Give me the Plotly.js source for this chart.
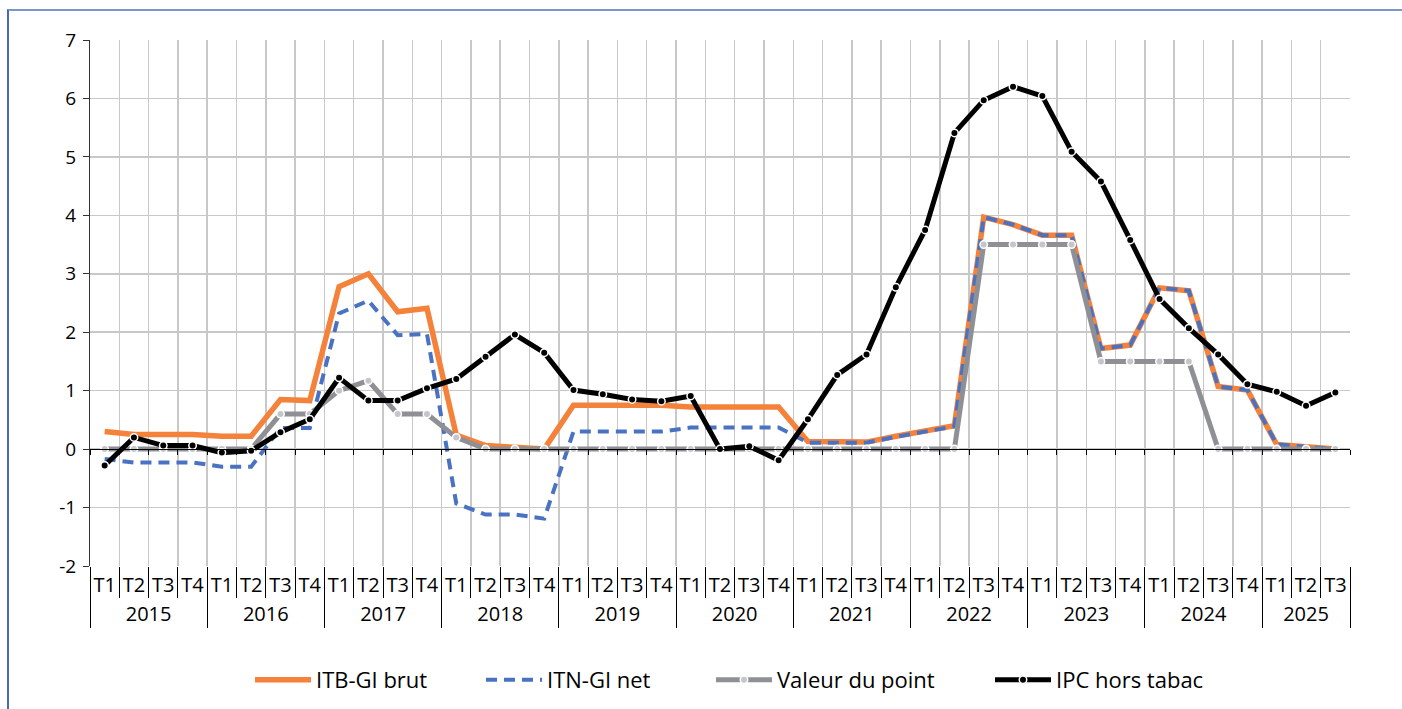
<!DOCTYPE html>
<html>
<head>
<meta charset="utf-8">
<script src="https://cdn.plot.ly/plotly-3.0.1.min.js"></script>
<style>
  html, body { margin: 0; padding: 0; background: #fff; }
  #wrap { position: relative; width: 1402px; height: 709px; overflow: hidden; }
  #frame { position: absolute; left: 7px; top: 9px; width: 1400px; height: 720px;
           border-top: 2px solid #7d96c9; border-left: 2px solid #4a68b8; pointer-events: none; z-index: 2; }
  #chart { position: absolute; left: 0; top: 0; width: 1402px; height: 709px; }
</style>
</head>
<body>
<div id="wrap">
  <div id="chart"></div>
  <div id="frame"></div>
</div>
<script>
// Categories
const yearLabels = [
  '2015','2015','2015','2015',
  '2016','2016','2016','2016',
  '2017','2017','2017','2017',
  '2018','2018','2018','2018',
  '2019','2019','2019','2019',
  '2020','2020','2020','2020',
  '2021','2021','2021','2021',
  '2022','2022','2022','2022',
  '2023','2023','2023','2023',
  '2024','2024','2024','2024',
  '2025','2025','2025'
];
const quarterLabels = [
  'T1','T2','T3','T4', 'T1','T2','T3','T4', 'T1','T2','T3','T4',
  'T1','T2','T3','T4', 'T1','T2','T3','T4', 'T1','T2','T3','T4',
  'T1','T2','T3','T4', 'T1','T2','T3','T4', 'T1','T2','T3','T4',
  'T1','T2','T3','T4', 'T1','T2','T3'
];

// Series
const itbBrut = [0.30,0.25,0.25,0.25, 0.22,0.22,0.85,0.83, 2.78,3.00,2.35,2.41,
                 0.24,0.06,0.03,0.00, 0.75,0.75,0.75,0.75, 0.72,0.72,0.72,0.72,
                 0.13,0.12,0.12,0.22, 0.31,0.40,3.97,3.84, 3.66,3.66,1.72,1.78,
                 2.76,2.71,1.07,1.01, 0.08,0.04,0.00];
const itnNet = [-0.17,-0.23,-0.23,-0.23, -0.30,-0.30,0.36,0.36, 2.32,2.54,1.95,1.97,
                -0.93,-1.12,-1.12,-1.19, 0.30,0.30,0.30,0.30, 0.37,0.37,0.37,0.37,
                0.11,0.11,0.11,0.21, 0.30,0.39,3.97,3.84, 3.66,3.66,1.72,1.78,
                2.76,2.71,1.07,1.01, 0.08,0.04,0.00];
const valeurPoint = [0,0,0,0, 0,0,0.60,0.60, 1.00,1.17,0.60,0.60,
                     0.20,0,0,0, 0,0,0,0, 0,0,0,0,
                     0,0,0,0, 0,0,3.50,3.50, 3.50,3.50,1.50,1.50,
                     1.50,1.50,0,0, 0,0,0];
const ipcHorsTabac = [-0.28,0.20,0.06,0.06, -0.06,-0.03,0.29,0.51, 1.22,0.83,0.83,1.04,
                      1.20,1.58,1.96,1.65, 1.01,0.94,0.85,0.82, 0.91,0.00,0.05,-0.19,
                      0.51,1.27,1.62,2.77, 3.75,5.41,5.97,6.20, 6.04,5.09,4.58,3.58,
                      2.57,2.07,1.62,1.11, 0.98,0.74,0.97];

const seriesNames = ['ITB-GI brut', 'ITN-GI net', 'Valeur du point', 'IPC hors tabac'];
const yTicks = [-2,-1,0,1,2,3,4,5,6,7];

const FONT = '"Open Sans", "Noto Sans", sans-serif';
const xcat = [yearLabels, quarterLabels];
const nCat = quarterLabels.length;

// plot geometry helpers (pixels)
const M_T = 40, M_B = 138, H = 709;
const plotH = H - M_T - M_B;          // paper height
const yDom0 = 5 / plotH;              // labels axis sits 5px below the plot bottom

const traces = [
  { x: xcat, y: itbBrut, name: seriesNames[0], type: 'scatter', mode: 'lines',
    line: { color: '#F5823A', width: 5.5 }, legend: 'legend' },
  { x: xcat, y: itnNet, name: seriesNames[1], type: 'scatter', mode: 'lines',
    line: { color: '#4A72C2', width: 4, dash: '11px,7px' }, legend: 'legend2' },
  { x: xcat, y: valeurPoint, name: seriesNames[2], type: 'scatter', mode: 'lines+markers',
    line: { color: '#8E9095', width: 5 },
    marker: { symbol: 'circle', size: 7.5, color: '#C4C6C9', line: { color: '#FFFFFF', width: 1.5 } },
    legend: 'legend3' },
  { x: xcat, y: ipcHorsTabac, name: seriesNames[3], type: 'scatter', mode: 'lines+markers',
    line: { color: '#000000', width: 5 },
    marker: { symbol: 'circle', size: 7.5, color: '#000000', line: { color: '#FFFFFF', width: 1.5 } },
    legend: 'legend4' },
  // axis line at y = 0 with tick marks
  { x: xcat, y: valeurPoint, xaxis: 'x2', yaxis: 'y', type: 'scatter', mode: 'none',
    showlegend: false, hoverinfo: 'skip' },
  // category labels axis
  { x: xcat, y: valeurPoint, xaxis: 'x3', yaxis: 'y', type: 'scatter', mode: 'none',
    showlegend: false, hoverinfo: 'skip' }
];

const legendBase = {
  orientation: 'h', yref: 'container', yanchor: 'middle', y: 29 / H, xanchor: 'left',
  font: { family: FONT, size: 22, color: '#000' }, bgcolor: 'rgba(0,0,0,0)', itemwidth: 56
};
function legendX(textStartPx) { return (textStartPx - 67 - 90) / 1260; }

const layout = {
  width: 1402, height: H,
  margin: { l: 90, r: 52, t: M_T, b: M_B, autoexpand: false },
  paper_bgcolor: '#fff', plot_bgcolor: '#fff',
  font: { family: FONT, size: 19, color: '#000' },
  showlegend: true,
  xaxis: {
    type: 'multicategory', range: [-0.5, nCat - 0.5], autorange: false, anchor: 'y',
    tickson: 'boundaries', showticklabels: false, showdividers: false,
    showgrid: true, gridcolor: '#C8C8C8', gridwidth: 1.5,
    ticks: 'outside', ticklen: 31, tickcolor: '#000', tickwidth: 1,
    showline: false, zeroline: false, fixedrange: true
  },
  xaxis2: {
    type: 'multicategory', overlaying: 'x', anchor: 'free', side: 'bottom',
    position: yDom0 + (1 - yDom0) * 2 / 9,
    range: [-0.5, nCat - 0.5], autorange: false,
    tickson: 'boundaries', showgrid: false, showticklabels: false, showdividers: false,
    ticks: 'outside', ticklen: 5, tickcolor: '#000', tickwidth: 1,
    showline: true, linecolor: '#000', linewidth: 1.3, zeroline: false
  },
  xaxis3: {
    type: 'multicategory', overlaying: 'x', anchor: 'free', position: 0, side: 'bottom',
    range: [-0.5, nCat - 0.5], autorange: false,
    tickson: 'boundaries', tickangle: 0, showgrid: false, ticks: '',
    showdividers: true, dividercolor: '#000', dividerwidth: 1,
    tickfont: { family: FONT, size: 20, color: '#000' },
    showline: false, zeroline: false
  },
  yaxis: {
    domain: [yDom0, 1],
    range: [-2, 7], tickvals: yTicks, ticktext: yTicks.map(String),
    showgrid: true, gridcolor: '#C8C8C8', gridwidth: 1.5,
    zeroline: false, showline: true, linecolor: '#333', linewidth: 1,
    ticks: 'outside', ticklen: 6, tickcolor: '#333', ticklabelstandoff: 3,
    tickfont: { family: FONT, size: 19, color: '#000' }, fixedrange: true
  },
  legend:  Object.assign({}, legendBase, { x: legendX(317) }),
  legend2: Object.assign({}, legendBase, { x: legendX(548) }),
  legend3: Object.assign({}, legendBase, { x: legendX(778) }),
  legend4: Object.assign({}, legendBase, { x: legendX(1057) })
};

Plotly.newPlot('chart', traces, layout, { staticPlot: true, displayModeBar: false });
</script>
</body>
</html>
